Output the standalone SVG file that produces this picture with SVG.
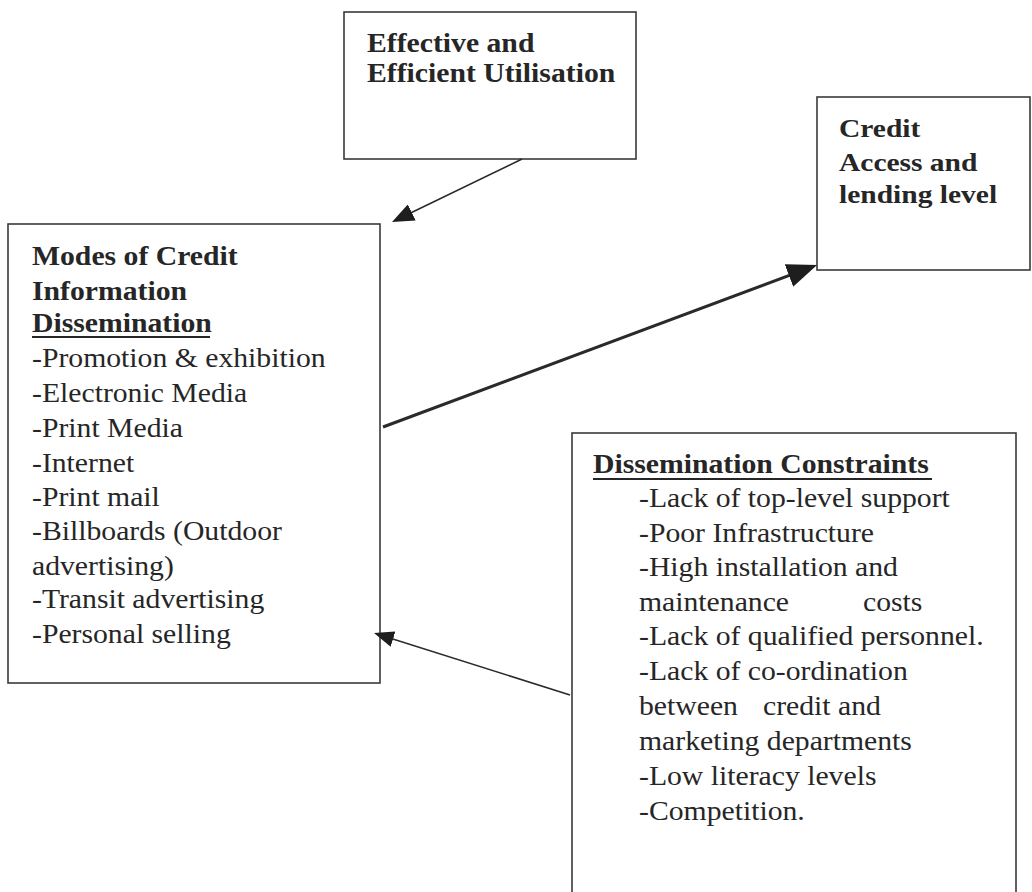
<svg xmlns="http://www.w3.org/2000/svg" width="1032" height="892" viewBox="0 0 1032 892">
<style>
.box{fill:#fff;stroke:#3a3a3a;stroke-width:1.6}
.t{font-family:"Liberation Serif","Times New Roman",serif;font-size:27px;fill:#262626}
.b{font-weight:bold}
.conn{stroke:#2a2a2a;fill:none}
.ul{stroke:#262626;stroke-width:2}
</style>
<defs>
<marker id="ah1" viewBox="0 0 22 18" refX="18" refY="9" markerWidth="22" markerHeight="18" markerUnits="userSpaceOnUse" orient="auto"><path d="M0,0 L22,9 L0,18 z" fill="#1e1e1e"/></marker>
<marker id="ah2" viewBox="0 0 30 24" refX="26" refY="12" markerWidth="30" markerHeight="24" markerUnits="userSpaceOnUse" orient="auto"><path d="M0,0 L30,12 L0,24 z" fill="#1e1e1e"/></marker>
<marker id="ah3" viewBox="0 0 20 16" refX="16" refY="8" markerWidth="20" markerHeight="16" markerUnits="userSpaceOnUse" orient="auto"><path d="M0,0 L20,8 L0,16 z" fill="#1e1e1e"/></marker>
</defs>
<rect width="1032" height="892" fill="#fff"/>

<g id="node-utilisation">
<rect class="box" x="344" y="12" width="292" height="147"/>
<g transform="translate(367,0) scale(1.1,1)">
<text class="t b" x="0" y="52">Effective and</text>
<text class="t b" x="0" y="82">Efficient Utilisation</text>
</g>
</g>

<g id="node-credit-access">
<rect class="box" x="817" y="97" width="213" height="173"/>
<g transform="translate(839,0) scale(1.18,1)">
<text class="t b" x="0" y="137" style="font-size:25px">Credit</text>
<text class="t b" x="0" y="171" style="font-size:25px">Access and</text>
<text class="t b" x="0" y="203" style="font-size:25px">lending level</text>
</g>
</g>

<g id="node-modes">
<rect class="box" x="8" y="224" width="372" height="459"/>
<g transform="translate(32,0) scale(1.1,1)">
<text class="t b" x="0" y="265">Modes of Credit</text>
<text class="t b" x="0" y="300">Information</text>
<text class="t b" x="0" y="332">Dissemination</text>
<text class="t" x="0" y="367">-Promotion &amp; exhibition</text>
<text class="t" x="0" y="402">-Electronic Media</text>
<text class="t" x="0" y="437">-Print Media</text>
<text class="t" x="0" y="472">-Internet</text>
<text class="t" x="0" y="506">-Print mail</text>
<text class="t" x="0" y="540">-Billboards (Outdoor</text>
<text class="t" x="0" y="575">advertising)</text>
<text class="t" x="0" y="608">-Transit advertising</text>
<text class="t" x="0" y="643">-Personal selling</text>
</g>
<line class="ul" x1="32" y1="337" x2="210" y2="337"/>
</g>

<g id="node-constraints">
<rect class="box" x="572" y="433" width="444" height="480"/>
<g transform="translate(593,0) scale(1.1,1)">
<text class="t b" x="0" y="473">Dissemination Constraints</text>
</g>
<line class="ul" x1="593" y1="479" x2="932" y2="479"/>
<g transform="translate(639,0) scale(1.1,1)">
<text class="t" x="0" y="507">-Lack of top-level support</text>
<text class="t" x="0" y="542">-Poor Infrastructure</text>
<text class="t" x="0" y="576">-High installation and</text>
<text class="t" x="0" y="611">maintenance</text>
<text class="t" x="203.6" y="611">costs</text>
<text class="t" x="0" y="645">-Lack of qualified personnel.</text>
<text class="t" x="0" y="680">-Lack of co-ordination</text>
<text class="t" x="0" y="715">between</text>
<text class="t" x="112.7" y="715">credit and</text>
<text class="t" x="0" y="750">marketing departments</text>
<text class="t" x="0" y="785">-Low literacy levels</text>
<text class="t" x="0" y="820">-Competition.</text>
</g>
</g>

<g id="connectors">
<line class="conn" x1="522" y1="159" x2="395.6" y2="220.3" stroke-width="1.6" marker-end="url(#ah1)"/>
<line class="conn" x1="383" y1="427" x2="813.3" y2="266.4" stroke-width="3" marker-end="url(#ah2)"/>
<line class="conn" x1="570" y1="695" x2="377.8" y2="634.2" stroke-width="1.6" marker-end="url(#ah3)"/>
</g>
</svg>
